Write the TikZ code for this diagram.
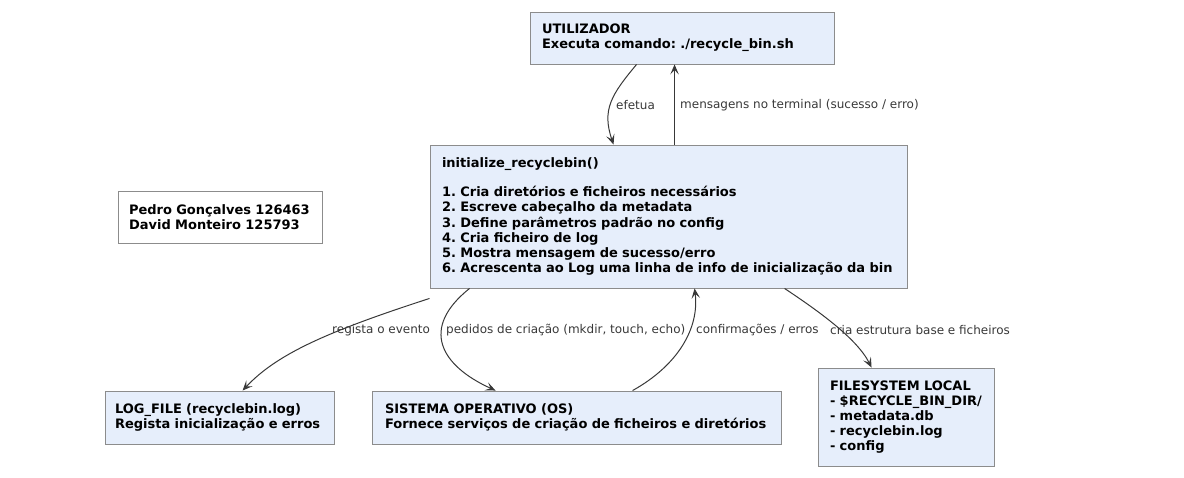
\documentclass[tikz,border=0pt]{standalone}
\usepackage{fontspec}
\setmainfont{DejaVu Sans}
\usetikzlibrary{arrows.meta}
\definecolor{boxfill}{HTML}{E6EEFB}
\definecolor{boxline}{HTML}{8C8C8C}
\definecolor{edgecol}{HTML}{383838}
\frenchspacing
\hyphenpenalty=10000
\tikzset{
  blk/.style={draw=boxline, fill=boxfill, line width=0.9pt, inner xsep=12pt, inner ysep=0pt,
    align=left, font=\fontsize{13}{15.2}\bfseries\selectfont, text=black},
  plainblk/.style={blk, fill=white},
  conn/.style={draw=edgecol, line width=1pt, -{Stealth[length=10pt,width=8.5pt,inset=4.5pt]}},
  lbl/.style={anchor=west, inner sep=0pt, font=\fontsize{12}{14}\selectfont, text=edgecol}
}
\begin{document}
\begin{tikzpicture}[x=1pt,y=-1pt]
\useasboundingbox (0,0) rectangle (1184,478);
\node[blk, text width=280pt, minimum height=52pt] (utl) at (682,38)
  {UTILIZADOR\\Executa comando: ./recycle\_bin.sh};
\node[blk, text width=453pt, minimum height=143pt] (init) at (668.5,216.5)
  {initialize\_recyclebin()\\[14pt]
   1. Cria diretórios e ficheiros necessários\\
   2. Escreve cabeçalho da metadata\\
   3. Define parâmetros padrão no config\\
   4. Cria ficheiro de log\\
   5. Mostra mensagem de sucesso/erro\\
   6. Acrescenta ao Log uma linha de info de inicialização da bin};
\node[plainblk, inner xsep=11pt, text width=182pt, minimum height=52pt] (autores) at (220,217)
  {Pedro Gonçalves 126463\\David Monteiro 125793};
\node[blk, inner xsep=10pt, text width=209pt, minimum height=53pt] (log) at (219.5,417.5)
  {LOG\_FILE (recyclebin.log)\\Regista inicialização e erros};
\node[blk, inner xsep=13pt, text width=383pt, minimum height=53pt] (os) at (576.5,417.5)
  {SISTEMA OPERATIVO (OS)\\Fornece serviços de criação de ficheiros e diretórios};
\node[blk, text width=152pt, minimum height=98pt] (fs) at (906,417)
  {FILESYSTEM LOCAL\\- \$RECYCLE\_BIN\_DIR/\\- metadata.db\\- recyclebin.log\\- config};

% connectors
\draw[conn] ([xshift=107pt]utl.south west) .. controls +(-25,30) and +(-12,-35) .. ([xshift=184pt]init.north west);
\draw[conn] ([xshift=245pt]init.north west) -- ([xshift=145pt]utl.south west);
\draw[conn] ([yshift=-10pt]init.south west) .. controls +(-105,34) and +(34,-36) .. ([xshift=138pt]log.north west);
\draw[conn] ([xshift=40pt]init.south west) .. controls +(-50,40) and +(-55,-25) .. ([xshift=124pt]os.north west);
\draw[conn] ([xshift=261pt]os.north west) .. controls +(45,-25) and +(5,40) .. ([xshift=265pt]init.south west);
\draw[conn] ([xshift=355pt]init.south west) .. controls +(30,20) and +(-15,-30) .. ([xshift=54pt]fs.north west);

% labels
\node[lbl] (l1) at (616,105) {efetua};
\node[lbl] (l2) at (680,105) {mensagens no terminal (sucesso / erro)};
\node[lbl] (l3) at (332,330) {regista o evento};
\node[lbl] (l4) at (446,330) {pedidos de criação (mkdir, touch, echo)};
\node[lbl] (l5) at (696,330) {confirmações / erros};
\node[lbl] (l6) at (830,330) {cria estrutura base e ficheiros};
\end{tikzpicture}
\end{document}
